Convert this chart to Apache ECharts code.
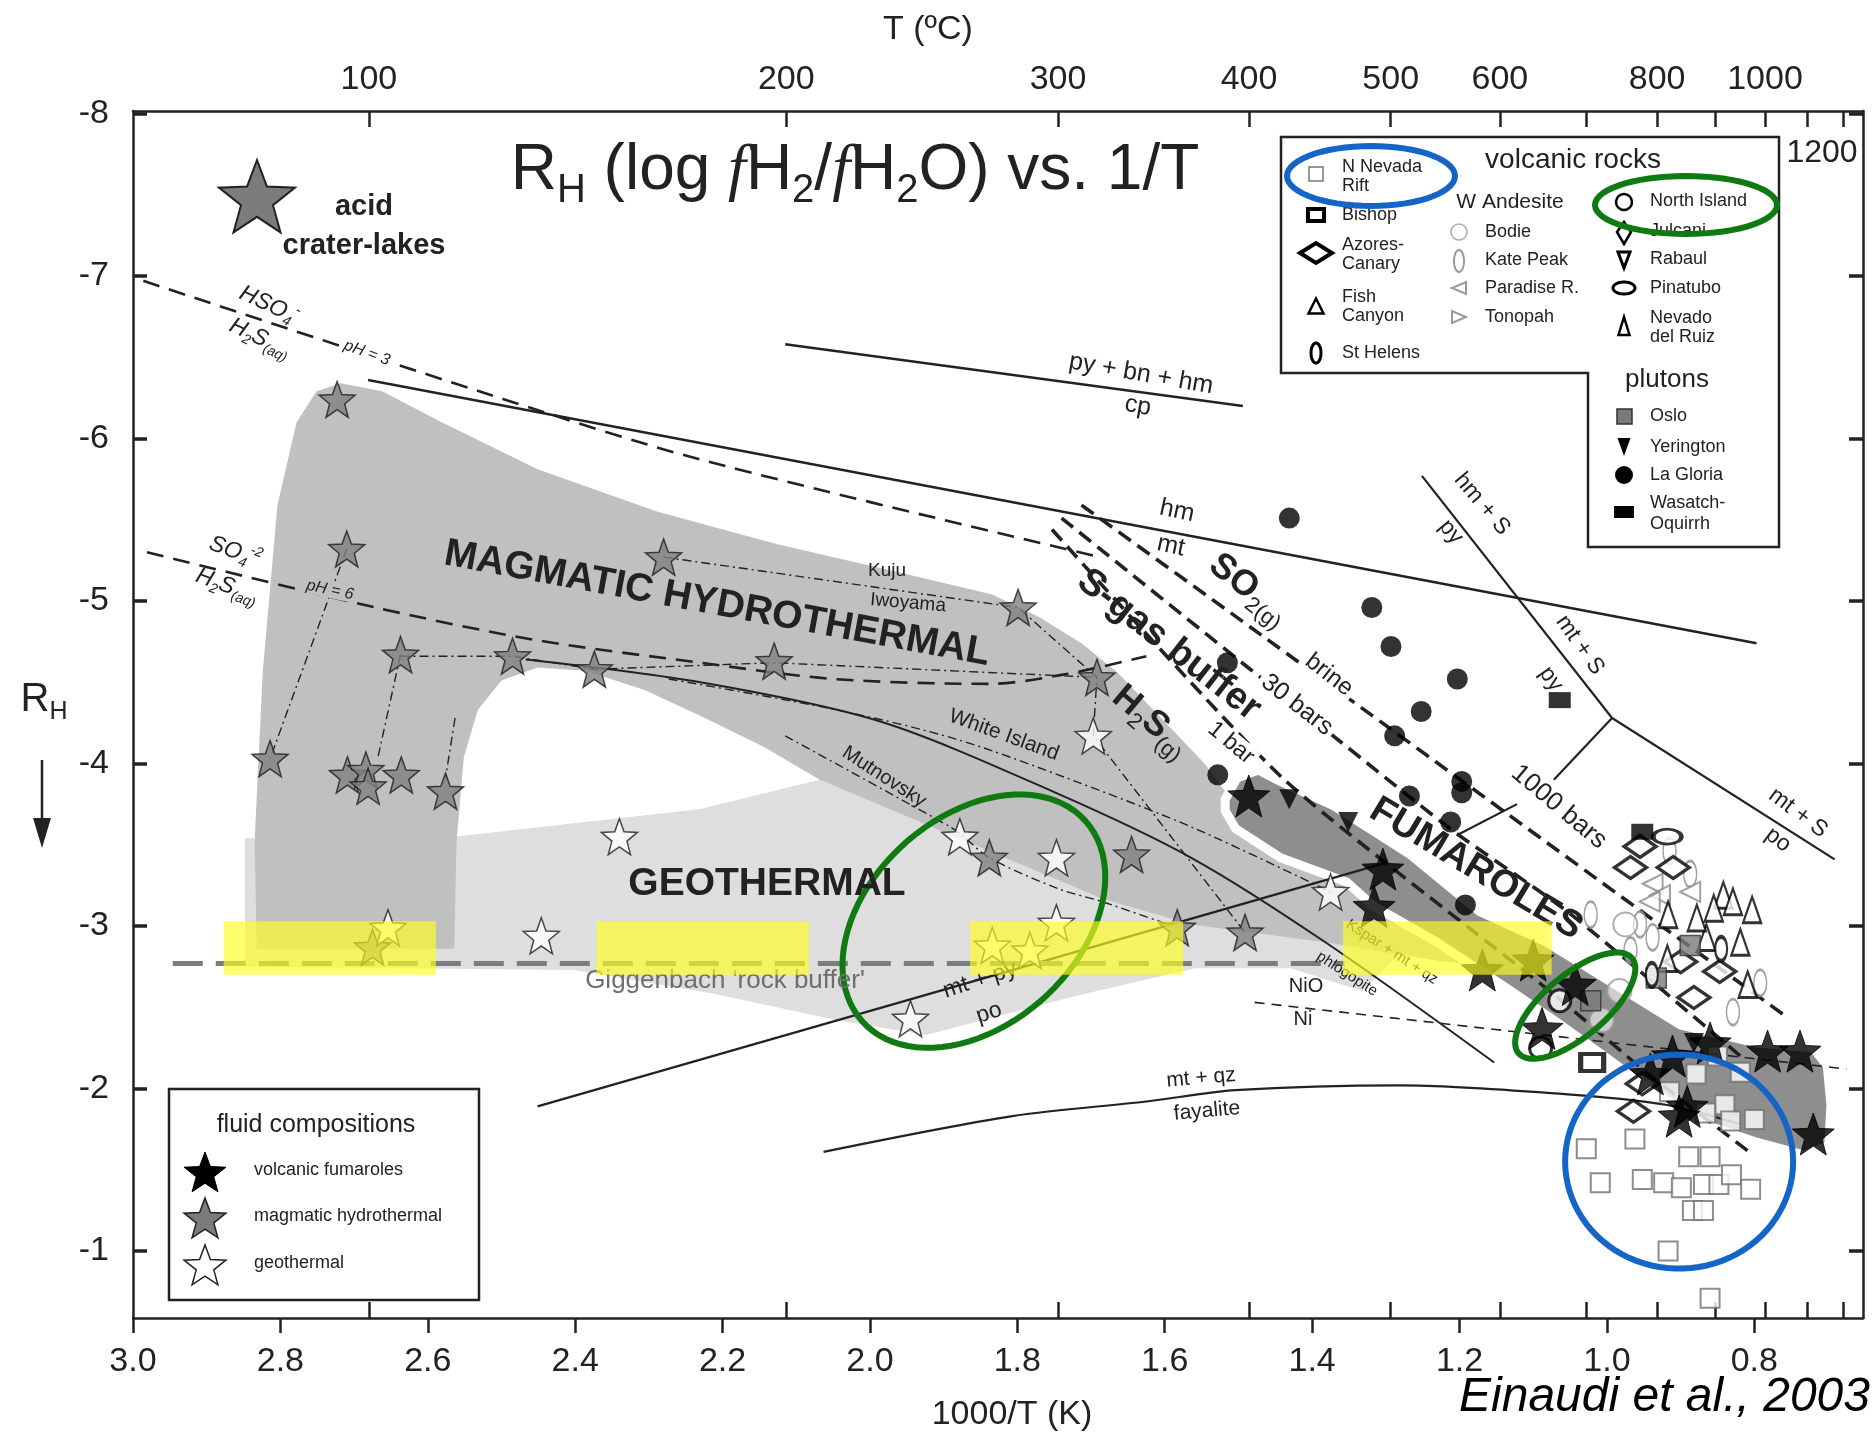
<!DOCTYPE html>
<html>
<head>
<meta charset="utf-8">
<title>RH vs 1/T</title>
<script src="https://cdn.jsdelivr.net/npm/echarts@6.0.0/dist/echarts.min.js"></script>
<style>
  html, body { margin: 0; padding: 0; background: #fff; }
  #chart { width: 1874px; height: 1440px; }
</style>
</head>
<body>
<div id="chart"></div>
<script>
// ---- axis ticks ----
const X_TICKS = [3.0, 2.8, 2.6, 2.4, 2.2, 2.0, 1.8, 1.6, 1.4, 1.2, 1.0, 0.8];
const Y_TICKS = [-8, -7, -6, -5, -4, -3, -2, -1];
const T_TICKS = [100, 200, 300, 400, 500, 600, 700, 800, 900, 1000, 1100, 1200];
const T_LABELS = [100, 200, 300, 400, 500, 600, 800, 1000];

// ---- shaded fields (1000/T, RH) ----
const GEOTHERMAL_FIELD = [[2.848,-3.54],[2.564,-3.55],[2.230,-3.72],[2.068,-3.90],[1.685,-3.18],[1.382,-2.94],
  [1.275,-2.86],[1.332,-2.60],[1.429,-2.74],[1.559,-2.74],[1.721,-2.57],[1.924,-2.33],[2.045,-2.42],
  [2.208,-2.58],[2.402,-2.73],[2.848,-2.75]];
const MAGMATIC_FIELD = [[2.832,-2.86],[2.835,-3.52],[2.824,-4.56],[2.804,-5.59],[2.778,-6.10],[2.751,-6.29],
  [2.718,-6.34],[2.662,-6.29],[2.581,-6.10],[2.451,-5.81],[2.289,-5.55],[2.127,-5.35],[1.964,-5.18],
  [1.834,-5.04],[1.770,-4.90],[1.713,-4.74],[1.664,-4.56],[1.546,-4.00],[1.510,-3.78],[1.429,-3.49],
  [1.332,-3.23],[1.234,-3.01],[1.153,-2.86],[1.072,-2.79],[1.072,-2.70],[1.234,-2.79],[1.382,-2.90],
  [1.564,-3.01],[1.685,-3.17],[2.068,-3.90],[2.143,-4.10],[2.224,-4.28],[2.305,-4.45],[2.386,-4.57],
  [2.451,-4.59],[2.500,-4.51],[2.532,-4.33],[2.551,-4.04],[2.561,-3.52],[2.564,-2.86]];
const FUMAROLE_FIELD = [[1.518,-3.78],[1.502,-3.91],[1.473,-3.96],[1.443,-3.89],[1.371,-3.74],[1.267,-3.44],
  [1.173,-3.09],[1.082,-2.90],[0.900,-2.39],[0.797,-2.28],[0.720,-2.25],[0.701,-2.14],[0.696,-1.90],
  [0.699,-1.65],[0.732,-1.59],[0.797,-1.67],[0.861,-1.77],[0.910,-1.90],[0.959,-2.05],[1.007,-2.21],
  [1.072,-2.42],[1.137,-2.62],[1.234,-2.91],[1.316,-3.12],[1.353,-3.27],[1.443,-3.42],[1.504,-3.60],[1.518,-3.71]];
// highlighted bands: [x from, x to, RH from, RH to]
const HIGHLIGHT_BANDS = [[2.877,2.589,-3.03,-2.70],[2.371,2.083,-3.03,-2.70],[1.864,1.575,-3.03,-2.70],[1.358,1.075,-3.03,-2.70]];

// ---- reaction and buffer lines ----
const HM_MT = [[2.681,-6.36],[0.797,-4.74]];
const PY_BN_HM_CP = [[2.115,-6.58],[1.494,-6.20]];
const HM_S_PY = [[1.251,-5.77],[0.993,-4.28]];
const MT_S_PO = [[0.993,-4.28],[0.691,-3.41]];
const MT_S_PY_A = [[0.993,-4.28],[1.072,-3.90]];
const MT_S_PY_B = [[1.122,-3.75],[1.203,-3.56]];
const MT_PY_PO = [[2.451,-1.89],[1.299,-3.39]];
const KSPAR_PHLOG = [[2.467,-4.64],[2.230,-4.50],[1.987,-4.26],[1.753,-3.83],[1.564,-3.42],[1.382,-2.90],[1.153,-2.16]];
const NIO_NI = [[1.478,-2.53],[0.675,-2.12]];
const MT_QZ_FAY = [[2.063,-1.61],[1.807,-1.83],[1.625,-1.92],[1.504,-1.99],[1.280,-2.02],[1.069,-1.97],[0.920,-1.90],[0.819,-1.78]];
const HSO4_PH3 = [[2.986,-6.97],[2.496,-6.24],[2.230,-5.87],[1.697,-5.28]];
const SO4_PH6 = [[2.981,-5.30],[2.671,-4.96],[2.454,-4.76],[2.230,-4.62],[2.049,-4.52],[1.838,-4.49],[1.734,-4.55],[1.625,-4.66]];
const BRINE = [[1.713,-5.59],[1.484,-4.84],[0.759,-2.45]];
const BARS_30 = [[1.740,-5.51],[1.484,-4.58],[1.213,-3.60],[1.051,-3.08],[0.819,-2.20]];
const BAR_1 = [[1.753,-5.44],[1.440,-3.91],[1.072,-2.58],[0.944,-2.09],[0.804,-1.60]];
const GIGGENBACH = [[2.946,-2.77],[1.356,-2.77]];
// fluid evolution tracks (dash-dot)
const TRACK_A = [[2.710,-5.32],[2.814,-4.03]];
const TRACK_B = [[2.637,-4.67],[2.668,-4.03]];
const TRACK_C = [[2.563,-4.28],[2.576,-3.91]];
const TRACK_D = [[2.637,-4.66],[2.485,-4.66],[2.374,-4.58],[2.130,-4.62],[1.692,-4.53]];
const KUJU = [[2.280,-5.27],[1.799,-4.96],[1.692,-4.53],[1.697,-4.17],[1.491,-2.96]];
const WHITE_ISLAND = [[2.273,-4.52],[2.045,-4.33],[1.883,-4.15],[1.721,-3.89],[1.559,-3.60],[1.375,-3.21]];
const MUTNOVSKY = [[2.115,-4.17],[1.891,-3.61],[1.873,-3.55],[1.838,-3.42],[1.745,-3.23],[1.685,-3.15],[1.583,-2.99]];

// ---- fluid compositions ----
const MAGMATIC_STARS = [[2.723,-6.24],[2.710,-5.32],[2.814,-4.03],[2.637,-4.67],[2.485,-4.66],[2.374,-4.58],
  [2.130,-4.63],[2.280,-5.27],[1.799,-4.96],[1.692,-4.53],[2.709,-3.93],[2.684,-3.96],[2.681,-3.86],
  [2.636,-3.93],[2.576,-3.83],[1.838,-3.42],[1.645,-3.44],[1.583,-2.99],[1.491,-2.96],[2.675,-2.87]];
const GEOTHERMAL_STARS = [[2.340,-3.55],[2.446,-2.94],[2.654,-2.99],[1.697,-4.17],[1.878,-3.55],[1.747,-3.42],
  [1.747,-3.02],[1.834,-2.88],[1.783,-2.85],[1.945,-2.43],[1.375,-3.21]];
const FUMAROLE_STARS = [[1.486,-3.80],[1.304,-3.35],[1.316,-3.12],[1.169,-2.73],[1.100,-2.79],[1.088,-2.37],
  [1.043,-2.64],[0.941,-2.09],[0.891,-1.89],[0.860,-2.28],[0.782,-2.23],[0.738,-2.23],[0.720,-1.72],
  [0.911,-2.20],[0.902,-1.83]];

// ---- volcanic rocks and plutons ----
const N_NEVADA = [[1.028,-1.63],[0.962,-1.69],[1.009,-1.42],[0.952,-1.44],[0.923,-1.42],[0.889,-1.58],[0.860,-1.58],
  [0.899,-1.39],[0.869,-1.41],[0.848,-1.41],[0.831,-1.47],[0.805,-1.38],[0.884,-1.25],[0.869,-1.25],[0.917,-1.00],
  [0.860,-0.71],[0.879,-2.09],[0.850,-2.20],[0.915,-1.98],[0.840,-1.90],[0.832,-1.80],[0.800,-1.81],[0.866,-1.85],[0.819,-2.10]];
const BISHOP = [[1.020,-2.16]];
const AZORES = [[0.964,-1.86],[0.952,-2.03],[0.968,-3.36],[0.955,-3.49],[0.910,-3.36],[0.900,-2.78],[0.882,-2.56],[0.847,-2.72]];
const NEVADO_RUIZ = [[0.842,-3.19],[0.829,-3.15],[0.855,-3.11],[0.819,-2.90],[0.865,-2.93],[0.878,-3.05],[0.917,-3.07],
  [0.918,-2.80],[0.809,-2.64],[0.803,-3.10]];
const PARADISE = [[0.938,-3.26],[0.928,-3.19],[0.887,-3.21],[0.942,-3.15]];
const KATE_PEAK = [[1.022,-3.07],[0.887,-3.32],[0.968,-2.85],[0.938,-2.93],[0.955,-3.01],[0.829,-2.47],[0.792,-2.65],[0.915,-3.46]];
const BODIE = [[0.975,-3.01],[0.983,-2.60],[1.007,-2.42]];
const OSLO = [[0.887,-2.88],[0.933,-2.68],[1.022,-2.54]];
const NORTH_ISLAND = [[1.090,-2.25],[1.064,-2.54]];
const PINATUBO = [[0.918,-3.55]];
const ST_HELENS = [[0.939,-2.70],[0.845,-2.86]];
const LA_GLORIA = [[1.431,-5.51],[1.319,-4.96],[1.293,-4.72],[1.515,-4.62],[1.203,-4.52],[1.252,-4.32],[1.288,-4.17],
  [1.528,-3.93],[1.197,-3.89],[1.197,-3.82],[1.268,-3.80],[1.212,-3.64],[1.192,-3.13]];
const WASATCH = [[1.064,-4.39],[0.952,-3.58]];
const YERINGTON = [[1.431,-3.78],[1.351,-3.64],[0.882,-2.28]];

// ---- annotation rings (centres) ----
const GREEN_RING_BIG = [[1.859,-3.03]];
const GREEN_RING_SMALL = [[1.043,-2.51]];
const BLUE_RING = [[0.902,-1.55]];

const FF = "'Liberation Sans', Arial, Helvetica, sans-serif";
const INK = '#222';
const STAR = 'path://M50,2 L62.34,35.01 L97.55,36.55 L69.97,58.49 L79.39,92.45 L50,73 L20.61,92.45 L30.03,58.49 L2.45,36.55 L37.66,35.01 Z';
const OVAL = 'path://M50,0 A50,50 0 1,1 50,100 A50,50 0 1,1 50,0 Z';

const chart = echarts.init(document.getElementById('chart'));

function field(name, pts, fill, z, stroke, lw) {
  return {
    name, type: 'custom', xAxisIndex: 0, yAxisIndex: 0, z, silent: true, data: pts,
    renderItem: (params, api) => params.dataIndex !== 0 ? null : {
      type: 'polygon',
      shape: { points: pts.map(p => api.coord(p)) },
      style: { fill, stroke: stroke || null, lineWidth: lw || 0 }
    }
  };
}

function ring(name, centre, a, b, deg, color) {
  const th = deg * Math.PI / 180;
  return {
    name, type: 'custom', xAxisIndex: 0, yAxisIndex: 0, z: 10, silent: true, data: centre,
    renderItem: (params, api) => {
      const c = api.coord([api.value(0), api.value(1)]);
      const pts = [];
      for (let i = 0; i < 90; i++) {
        const t = i / 90 * Math.PI * 2;
        const ex = a * Math.cos(t), ey = b * Math.sin(t);
        pts.push([c[0] + ex * Math.cos(th) + ey * Math.sin(th), c[1] - ex * Math.sin(th) + ey * Math.cos(th)]);
      }
      return { type: 'polygon', shape: { points: pts }, style: { fill: null, stroke: color, lineWidth: 6 } };
    }
  };
}

function curve(name, pts, width, type, color, smooth) {
  return {
    name, type: 'line', xAxisIndex: 0, yAxisIndex: 0, data: pts, symbol: 'none', showSymbol: false,
    smooth: smooth || false, z: 5, silent: true,
    lineStyle: { color: color || INK, width, type: type || 'solid' }
  };
}

function dots(name, pts, symbol, size, item, rotate, z) {
  return {
    name, type: 'scatter', xAxisIndex: 0, yAxisIndex: 0, data: pts, symbol, symbolSize: size,
    symbolRotate: rotate || 0, itemStyle: item, z: z || 8, silent: true
  };
}

const DASHDOT = [9, 4, 2, 4];

const series = [
  field('geothermal', GEOTHERMAL_FIELD, '#dedede', 1),
  field('magmatic hydrothermal', MAGMATIC_FIELD, '#c0c0c0', 2),
  field('fumaroles', FUMAROLE_FIELD, '#8e8e8e', 3, '#ffffff', 9),

  curve('hm/mt', HM_MT, 2.4),
  curve('py+bn+hm/cp', PY_BN_HM_CP, 2.4),
  curve('hm+S/py', HM_S_PY, 2.2),
  curve('mt+S/po', MT_S_PO, 2.2),
  curve('mt+S/py a', MT_S_PY_A, 2.2),
  curve('mt+S/py b', MT_S_PY_B, 2.2),
  curve('mt+py/po', MT_PY_PO, 2.2),
  curve('Kspar+mt+qz/phlogopite', KSPAR_PHLOG, 2, 'solid', INK, 0.3),
  curve('NiO/Ni', NIO_NI, 1.6, [10, 7]),
  curve('mt+qz/fayalite', MT_QZ_FAY, 2.2, 'solid', INK, 0.3),
  curve('HSO4/H2S pH 3', HSO4_PH3, 2.6, [17, 10], INK, 0.3),
  curve('SO4/H2S pH 6', SO4_PH6, 2.6, [17, 10], INK, 0.3),
  curve('brine', BRINE, 3.6, [15, 8], INK, 0.2),
  curve('30 bars', BARS_30, 3.6, [15, 8], INK, 0.2),
  curve('1 bar', BAR_1, 3.6, [15, 8], INK, 0.2),
  curve('Giggenbach rock buffer', GIGGENBACH, 5, [30, 13], '#7c7c7c'),
  curve('track a', TRACK_A, 1.4, DASHDOT),
  curve('track b', TRACK_B, 1.4, DASHDOT),
  curve('track c', TRACK_C, 1.4, DASHDOT),
  curve('track d', TRACK_D, 1.4, DASHDOT),
  curve('Kuju Iwoyama', KUJU, 1.4, DASHDOT),
  curve('White Island', WHITE_ISLAND, 1.4, DASHDOT, INK, 0.3),
  curve('Mutnovsky', MUTNOVSKY, 1.4, DASHDOT, INK, 0.3),

  dots('N Nevada Rift', N_NEVADA, 'rect', 19, { color: '#fff', borderColor: '#707070', borderWidth: 2 }),
  dots('Bishop', BISHOP, 'rect', [23, 17], { color: '#fff', borderColor: '#000', borderWidth: 4.5 }),
  dots('Kate Peak', KATE_PEAK, OVAL, [13, 26], { color: 'rgba(255,255,255,0.6)', borderColor: '#8a8a8a', borderWidth: 2 }),
  dots('Bodie', BODIE, 'circle', 24, { color: 'rgba(255,255,255,0.7)', borderColor: '#9a9a9a', borderWidth: 2 }),
  dots('Paradise R.', PARADISE, 'triangle', 20, { color: '#fff', borderColor: '#8a8a8a', borderWidth: 2 }, 90),
  dots('Azores-Canary', AZORES, 'diamond', [32, 22], { color: '#fff', borderColor: '#000', borderWidth: 3.5 }),
  dots('Nevado del Ruiz', NEVADO_RUIZ, 'triangle', [18, 26], { color: '#fff', borderColor: '#000', borderWidth: 2.5 }),
  dots('Oslo', OSLO, 'rect', 20, { color: '#7b7b7b', borderColor: '#333', borderWidth: 1.5 }),
  dots('North Island', NORTH_ISLAND, 'circle', 22, { color: '#fff', borderColor: '#000', borderWidth: 3 }),
  dots('Pinatubo', PINATUBO, OVAL, [28, 15], { color: '#fff', borderColor: '#000', borderWidth: 3.5 }),
  dots('St Helens', ST_HELENS, OVAL, [12, 24], { color: '#fff', borderColor: '#000', borderWidth: 3 }),
  dots('La Gloria', LA_GLORIA, 'circle', 21, { color: '#000' }),
  dots('Wasatch-Oquirrh', WASATCH, 'rect', [22, 16], { color: '#000' }),
  dots('Yerington', YERINGTON, 'triangle', 20, { color: '#000' }, 180),

  dots('magmatic hydrothermal', MAGMATIC_STARS, STAR, 36, { color: '#808080', borderColor: '#1e1e1e', borderWidth: 1.5 }, 0, 9),
  dots('geothermal', GEOTHERMAL_STARS, STAR, 36, { color: '#fff', borderColor: '#1e1e1e', borderWidth: 1.5 }, 0, 9),
  dots('volcanic fumaroles', FUMAROLE_STARS, STAR, 42, { color: '#000', borderColor: '#000', borderWidth: 1 }, 0, 9),

  ring('ring big', GREEN_RING_BIG, 150, 104, 42, '#0f7a12'),
  ring('ring small', GREEN_RING_SMALL, 74, 31, 40, '#0f7a12'),
  ring('ring blue', BLUE_RING, 114, 107, 0, '#1565c8'),

  {
    name: 'highlight', type: 'custom', xAxisIndex: 0, yAxisIndex: 0, z: 30, silent: true, data: HIGHLIGHT_BANDS,
    renderItem: (params, api) => {
      const x1 = api.value(0), x2 = api.value(1), y1 = api.value(2), y2 = api.value(3);
      return {
        type: 'polygon',
        shape: { points: [api.coord([x1, y1]), api.coord([x2, y1]), api.coord([x2, y2]), api.coord([x1, y2])] },
        style: { fill: 'rgba(255,255,30,0.66)' }
      };
    }
  }
];

// ---- annotations (pixel placed) ----
const G = [];
function rich(fs, bold, italic, color) {
  const base = { fontFamily: FF, fontWeight: bold ? 'bold' : 'normal', fontStyle: italic ? 'italic' : 'normal', fill: color || INK };
  return {
    n: Object.assign({}, base, { fontSize: fs, lineHeight: Math.round(fs * 1.25) }),
    s: Object.assign({}, base, { fontSize: Math.round(fs * 0.62), lineHeight: Math.round(fs * 0.62), verticalAlign: 'bottom' }),
    r: Object.assign({}, base, { fontWeight: 'normal', fontSize: Math.round(fs * 0.62), lineHeight: Math.round(fs * 0.62), verticalAlign: 'bottom' }),
    p: Object.assign({}, base, { fontSize: Math.round(fs * 0.6), lineHeight: Math.round(fs * 0.6), verticalAlign: 'top' }),
    f: Object.assign({}, base, { fontFamily: "'Liberation Serif', 'Times New Roman', serif", fontStyle: 'italic', fontWeight: 'normal', fontSize: fs, lineHeight: Math.round(fs * 1.25) })
  };
}
function label(x, y, text, o) {
  o = o || {};
  const fs = o.fs || 22;
  const style = {
    text, fill: o.color || INK, fontFamily: FF, fontSize: fs,
    fontWeight: o.bold ? 'bold' : 'normal', fontStyle: o.italic ? 'italic' : 'normal',
    align: o.align || 'center', textAlign: o.align || 'center', verticalAlign: 'middle', textVerticalAlign: 'middle'
  };
  if (o.rich) style.rich = rich(fs, o.bold, o.italic, o.color);
  if (o.bg) { style.backgroundColor = o.bg; style.padding = [0, 4]; }
  G.push({ type: 'text', x, y, z: o.z || 20, rotation: (o.rot || 0) * Math.PI / 180, style });
}
function shape(type, shp, style, z) { G.push({ type, z: z || 41, shape: shp, style }); }
function starPts(cx, cy, R) {
  const pts = [];
  for (let i = 0; i < 10; i++) {
    const r = i % 2 === 0 ? R : R * 0.42;
    const a = -Math.PI / 2 + i * Math.PI / 5;
    pts.push([cx + r * Math.cos(a), cy + r * Math.sin(a)]);
  }
  return pts;
}
function ellPts(cx, cy, a, b) {
  const pts = [];
  for (let i = 0; i < 60; i++) { const t = i / 60 * Math.PI * 2; pts.push([cx + a * Math.cos(t), cy + b * Math.sin(t)]); }
  return pts;
}
function tri(cx, cy, w, h, dir) {
  if (dir === 'down') return [[cx - w / 2, cy - h / 2], [cx + w / 2, cy - h / 2], [cx, cy + h / 2]];
  if (dir === 'left') return [[cx + w / 2, cy - h / 2], [cx + w / 2, cy + h / 2], [cx - w / 2, cy]];
  if (dir === 'right') return [[cx - w / 2, cy - h / 2], [cx - w / 2, cy + h / 2], [cx + w / 2, cy]];
  return [[cx - w / 2, cy + h / 2], [cx + w / 2, cy + h / 2], [cx, cy - h / 2]];
}

// titles and axis names
label(855, 171, '{n|R}{s|H}{n| (log }{f|f}{n|H}{s|2}{n|/}{f|f}{n|H}{s|2}{n|O) vs. 1/T}', { fs: 64, rich: true });
label(928, 30, 'T (ºC)', { fs: 34 });
label(1012, 1415, '1000/T (K)', { fs: 34 });
label(44, 700, '{n|R}{s|H}', { fs: 40, rich: true });
shape('line', { x1: 42, y1: 760, x2: 42, y2: 826 }, { stroke: INK, lineWidth: 2.5 });
shape('polygon', { points: [[33, 818], [51, 818], [42, 848]] }, { fill: INK });
label(1870, 1398, 'Einaudi et al., 2003', { fs: 48, italic: true, align: 'right', color: '#000' });
label(1822, 153, '1200', { fs: 32 });

// acid crater lakes
shape('polygon', { points: starPts(257, 200, 40) }, { fill: '#7c7c7c', stroke: INK, lineWidth: 2 });
label(364, 207, 'acid', { fs: 29, bold: true });
label(364, 246, 'crater-lakes', { fs: 29, bold: true });

// field and line labels
label(269, 305, '{n|HSO}{s|4}{p|-}', { fs: 23, italic: true, rich: true, rot: -25 });
label(260, 338, '{n|H}{s|2}{n|S}{s|(aq)}', { fs: 23, italic: true, rich: true, rot: -25 });
label(367, 353, 'pH = 3', { fs: 16, italic: true, rot: -20, bg: '#fff' });
label(235, 552, '{n|SO}{s|4}{p|-2}', { fs: 23, italic: true, rich: true, rot: -20 });
label(227, 586, '{n|H}{s|2}{n|S}{s|(aq)}', { fs: 23, italic: true, rich: true, rot: -20 });
label(330, 590, 'pH = 6', { fs: 16, italic: true, rot: -12, bg: '#c0c0c0' });
label(717, 604, 'MAGMATIC HYDROTHERMAL', { fs: 39, bold: true, rot: -10.5 });
label(767, 884, 'GEOTHERMAL', { fs: 39, bold: true });
label(887, 571, 'Kuju', { fs: 19 });
label(908, 603, 'Iwoyama', { fs: 19, rot: -5 });
label(1004, 735, 'White Island', { fs: 21, rot: -20 });
label(884, 777, 'Mutnovsky', { fs: 20, rot: -33 });
label(1177, 511, 'hm', { fs: 25, rot: -12 });
label(1171, 546, 'mt', { fs: 25, rot: -12 });
label(1141, 374, 'py + bn + hm', { fs: 25, rot: -10 });
label(1138, 406, 'cp', { fs: 25, rot: -10 });
label(1249, 589, '{n|SO}{r|2(g)}', { fs: 36, bold: true, rich: true, rot: -38 });
label(1169, 645, 'S-gas buffer', { fs: 38, bold: true, rot: -38 });
label(1151, 721, '{n|H}{r|2}{n|S}{r|(g)}', { fs: 36, bold: true, rich: true, rot: -40 });
label(1329, 675, 'brine', { fs: 24, rot: -38, bg: '#fff' });
label(1297, 705, '30 bars', { fs: 25, rot: -38, bg: '#fff' });
label(1231, 743, '1 bar', { fs: 23, rot: -40, bg: '#fff' });
label(1559, 807, '1000 bars', { fs: 26, rot: -40, bg: '#fff' });
label(1476, 869, 'FUMAROLES', { fs: 38, bold: true, rot: -31 });
label(1482, 504, 'hm + S', { fs: 23, rot: -50 });
label(1451, 532, 'py', { fs: 23, rot: -50 });
label(1580, 645, 'mt + S', { fs: 23, rot: -55 });
label(1551, 679, 'py', { fs: 23, rot: -55 });
label(1798, 813, 'mt + S', { fs: 23, rot: -37 });
label(1778, 840, 'po', { fs: 23, rot: -37 });
label(980, 980, 'mt + py', { fs: 23, rot: 18 });
label(989, 1013, 'po', { fs: 23, rot: 18 });
label(1392, 952, 'Kspar + mt + qz', { fs: 15, rot: -33 });
label(1347, 974, 'phlogopite', { fs: 15, rot: -33 });
label(1306, 986, 'NiO', { fs: 20 });
label(1303, 1019, 'Ni', { fs: 20 });
label(1201, 1078, 'mt + qz', { fs: 21, rot: 5 });
label(1207, 1111, 'fayalite', { fs: 21, rot: 5 });
label(725, 981, "Giggenbach 'rock buffer'", { fs: 26, color: '#6e6e6e' });

// fluid compositions legend
shape('rect', { x: 169, y: 1089, width: 310, height: 211 }, { fill: '#fff', stroke: INK, lineWidth: 2.5 }, 40);
label(316, 1125, 'fluid compositions', { fs: 25, z: 42 });
shape('polygon', { points: starPts(205, 1174, 22) }, { fill: '#000', stroke: '#000', lineWidth: 1 });
shape('polygon', { points: starPts(205, 1220, 22) }, { fill: '#7c7c7c', stroke: INK, lineWidth: 1.5 });
shape('polygon', { points: starPts(205, 1267, 22) }, { fill: '#fff', stroke: INK, lineWidth: 1.5 });
label(254, 1170, 'volcanic fumaroles', { fs: 18, align: 'left', z: 42 });
label(254, 1216, 'magmatic hydrothermal', { fs: 18, align: 'left', z: 42 });
label(254, 1263, 'geothermal', { fs: 18, align: 'left', z: 42 });

// volcanic rocks / plutons legend
shape('polygon', { points: [[1281, 137], [1779, 137], [1779, 547], [1588, 547], [1588, 373], [1281, 373]] },
  { fill: '#fff', stroke: INK, lineWidth: 2.5 }, 40);
label(1573, 160, 'volcanic rocks', { fs: 28, z: 42 });
label(1510, 202, 'W Andesite', { fs: 21, z: 42 });
label(1667, 380, 'plutons', { fs: 26, z: 42 });
const LT = { fs: 18, align: 'left', z: 42 };
// column 1
shape('rect', { x: 1309, y: 167, width: 14, height: 14 }, { fill: '#fff', stroke: '#777', lineWidth: 1.5 });
label(1342, 167, 'N Nevada', LT); label(1342, 186, 'Rift', LT);
shape('rect', { x: 1308, y: 209, width: 16, height: 12 }, { fill: '#fff', stroke: '#000', lineWidth: 4 });
label(1342, 215, 'Bishop', LT);
shape('polygon', { points: [[1300, 253], [1316, 243], [1332, 253], [1316, 263]] }, { fill: '#fff', stroke: '#000', lineWidth: 4 });
label(1342, 245, 'Azores-', LT); label(1342, 264, 'Canary', LT);
shape('polygon', { points: tri(1316, 306, 15, 15, 'up') }, { fill: '#fff', stroke: '#000', lineWidth: 2.5 });
label(1342, 297, 'Fish', LT); label(1342, 316, 'Canyon', LT);
shape('polygon', { points: ellPts(1316, 353, 5, 10) }, { fill: '#fff', stroke: '#000', lineWidth: 3 });
label(1342, 353, 'St Helens', LT);
// column 2
shape('circle', { cx: 1459, cy: 232, r: 8 }, { fill: '#fff', stroke: '#aaa', lineWidth: 1.5 });
label(1485, 232, 'Bodie', LT);
shape('polygon', { points: ellPts(1459, 261, 5, 11) }, { fill: '#fff', stroke: '#999', lineWidth: 2 });
label(1485, 260, 'Kate Peak', LT);
shape('polygon', { points: tri(1459, 288, 14, 12, 'left') }, { fill: '#fff', stroke: '#999', lineWidth: 2 });
label(1485, 288, 'Paradise R.', LT);
shape('polygon', { points: tri(1459, 317, 14, 12, 'right') }, { fill: '#fff', stroke: '#999', lineWidth: 2 });
label(1485, 317, 'Tonopah', LT);
// column 3
shape('circle', { cx: 1624, cy: 202, r: 8 }, { fill: '#fff', stroke: '#000', lineWidth: 2.5 });
label(1650, 201, 'North Island', LT);
shape('polygon', { points: [[1624, 222], [1631, 232], [1624, 244], [1617, 232]] }, { fill: '#fff', stroke: '#000', lineWidth: 2.5 });
label(1650, 231, 'Julcani', LT);
shape('polygon', { points: tri(1624, 260, 12, 16, 'down') }, { fill: '#fff', stroke: '#000', lineWidth: 3 });
label(1650, 259, 'Rabaul', LT);
shape('polygon', { points: ellPts(1624, 288, 11, 6) }, { fill: '#fff', stroke: '#000', lineWidth: 3 });
label(1650, 288, 'Pinatubo', LT);
shape('polygon', { points: tri(1624, 326, 11, 18, 'up') }, { fill: '#fff', stroke: '#000', lineWidth: 2.5 });
label(1650, 318, 'Nevado', LT); label(1650, 337, 'del Ruiz', LT);
shape('rect', { x: 1617, y: 409, width: 15, height: 15 }, { fill: '#7b7b7b', stroke: '#333', lineWidth: 1.5 });
label(1650, 416, 'Oslo', LT);
shape('polygon', { points: tri(1624, 447, 13, 18, 'down') }, { fill: '#000' });
label(1650, 447, 'Yerington', LT);
shape('circle', { cx: 1624, cy: 475, r: 9 }, { fill: '#000' });
label(1650, 475, 'La Gloria', LT);
shape('rect', { x: 1614, y: 506, width: 20, height: 12 }, { fill: '#000' });
label(1650, 503, 'Wasatch-', LT); label(1650, 524, 'Oquirrh', LT);
// legend rings
shape('polygon', { points: ellPts(1371, 176, 84, 30) }, { fill: null, stroke: '#1565c8', lineWidth: 6 }, 43);
shape('polygon', { points: ellPts(1686, 205, 91, 29) }, { fill: null, stroke: '#0f7a12', lineWidth: 6 }, 43);

const axisLineStyle = { color: INK, width: 2.5 };
const tLoc = T_TICKS.map(t => 1000 / (t + 273.15));
const tLabLoc = T_LABELS.map(t => 1000 / (t + 273.15));

chart.setOption({
  animation: false,
  backgroundColor: '#fff',
  grid: { left: 133, right: 11, top: 111, bottom: 122, containLabel: false, show: false },
  xAxis: [
    {
      type: 'value', position: 'bottom', min: 0.6525, max: 3.0, inverse: true,
      axisLine: { show: true, onZero: false, lineStyle: axisLineStyle },
      axisTick: { show: true, inside: false, length: 15, customValues: X_TICKS, lineStyle: axisLineStyle },
      axisLabel: { customValues: X_TICKS, formatter: v => v.toFixed(1), fontSize: 34, margin: 27, color: INK, fontFamily: FF },
      splitLine: { show: false }
    },
    {
      type: 'value', position: 'top', min: 0.6525, max: 3.0, inverse: true,
      axisLine: { show: true, onZero: false, lineStyle: axisLineStyle },
      axisTick: { show: true, inside: true, length: 16, customValues: tLoc, lineStyle: axisLineStyle },
      axisLabel: { customValues: tLabLoc, formatter: v => String(Math.round(1000 / v - 273.15)), fontSize: 34, margin: 14, color: INK, fontFamily: FF },
      splitLine: { show: false }
    },
    {
      type: 'value', position: 'bottom', min: 0.6525, max: 3.0, inverse: true,
      axisLine: { show: false, onZero: false },
      axisTick: { show: true, inside: true, length: 16, customValues: tLoc, lineStyle: axisLineStyle },
      axisLabel: { show: false },
      splitLine: { show: false }
    }
  ],
  yAxis: [
    {
      type: 'value', position: 'left', min: -8.015, max: -0.588, inverse: true,
      axisLine: { show: true, onZero: false, lineStyle: axisLineStyle },
      axisTick: { show: true, inside: true, length: 14, customValues: Y_TICKS, lineStyle: { color: INK, width: 3.5 } },
      axisLabel: { customValues: Y_TICKS, fontSize: 34, margin: 24, color: INK, fontFamily: FF },
      splitLine: { show: false }
    },
    {
      type: 'value', position: 'right', min: -8.015, max: -0.588, inverse: true,
      axisLine: { show: true, onZero: false, lineStyle: axisLineStyle },
      axisTick: { show: true, inside: true, length: 14, customValues: Y_TICKS, lineStyle: { color: INK, width: 3.5 } },
      axisLabel: { show: false },
      splitLine: { show: false }
    }
  ],
  series,
  graphic: { elements: G }
});
</script>
</body>
</html>
